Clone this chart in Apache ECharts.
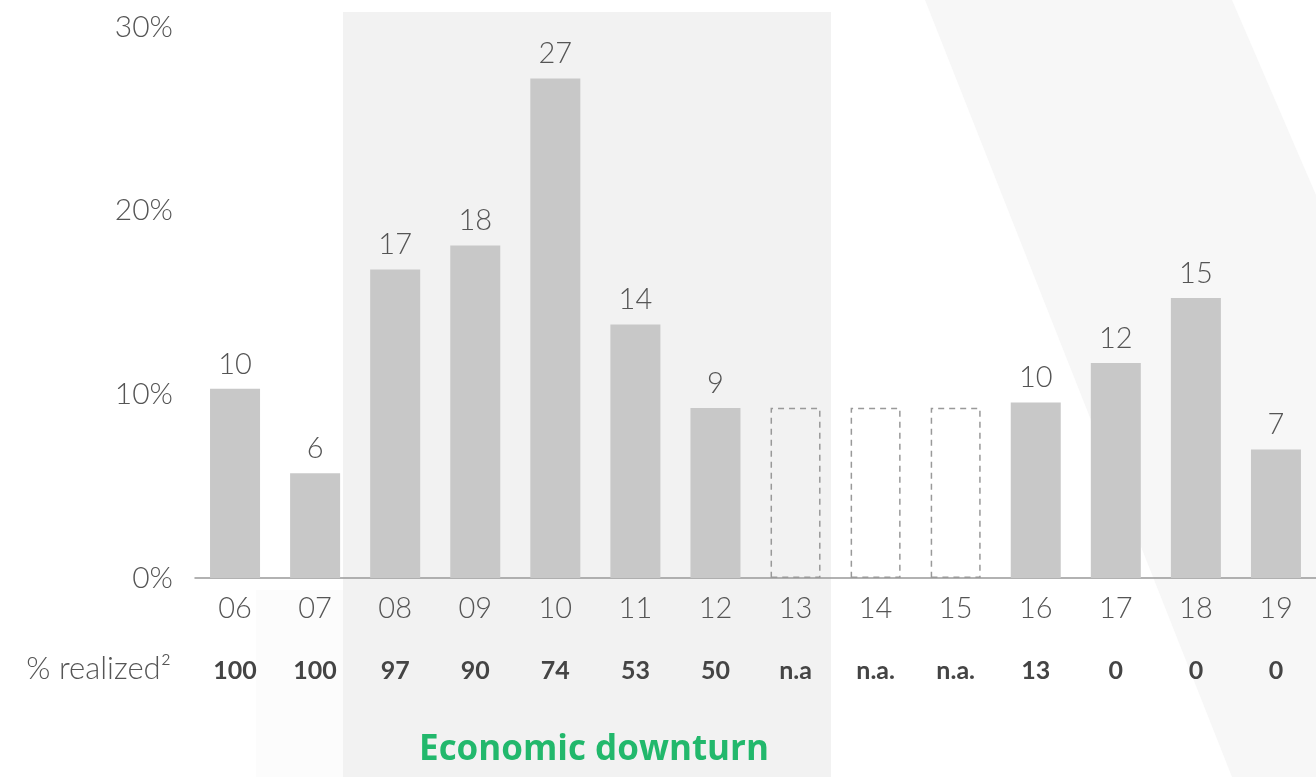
<!DOCTYPE html>
<html>
<head>
<meta charset="utf-8">
<script src="https://cdn.jsdelivr.net/npm/echarts@6/dist/echarts.min.js"></script>
<style>
  html, body { margin: 0; padding: 0; background: #fff; }
  #chart { width: 1316px; height: 777px; }
</style>
</head>
<body>
<div id="chart"></div>
<script>
const years = ['06', '07', '08', '09', '10', '11', '12', '13', '14', '15', '16', '17', '18', '19']
const values = [10.3, 5.7, 16.8, 18.1, 27.2, 13.8, 9.25, 9.27, 9.27, 9.27, 9.55, 11.7, 15.25, 7.0]
const barLabels = ['10', '6', '17', '18', '27', '14', '9', '', '', '', '10', '12', '15', '7']
const placeholder = [false, false, false, false, false, false, false, true, true, true, false, false, false, false]
const realized = ['100', '100', '97', '90', '74', '53', '50', 'n.a', 'n.a.', 'n.a.', '13', '0', '0', '0']
const yTicks = [0, 10, 20, 30]

const font = 'Lato, "Open Sans", sans-serif'
const boldFont = '"Open Sans", Lato, sans-serif'
const chart = echarts.init(document.getElementById('chart'))

chart.setOption({
  animation: false,
  backgroundColor: '#fff',
  graphic: [
    // faint diagonal band on the right
    {
      type: 'polygon', z: -10, silent: true,
      shape: { points: [[925, 0], [1232, 0], [1316, 195], [1316, 777], [1232, 777]] },
      style: { fill: '#f7f7f7' }
    },
    { type: 'rect', z: -10, silent: true, shape: { x: 256, y: 590, width: 87, height: 187 }, style: { fill: '#fcfcfc' } },
    // economic downturn shading
    { type: 'rect', z: -9, silent: true, shape: { x: 343, y: 12, width: 488, height: 765 }, style: { fill: '#f2f2f2' } },
    {
      type: 'text', x: 594, y: 750,
      style: {
        text: 'Economic downturn', fill: '#22b86c', font: 'bold 35px ' + boldFont,
        textAlign: 'center', textVerticalAlign: 'middle'
      }
    },
    {
      type: 'text', right: 1316 - 171, top: 653,
      style: { text: '% realized²', fill: '#555', font: '300 31px ' + font, textAlign: 'right' }
    }
  ],
  grid: { left: 195, top: 27, width: 1124, height: 551 },
  xAxis: [
    {
      type: 'category',
      data: years,
      axisLine: { lineStyle: { color: '#999', width: 1.5 } },
      axisTick: { show: false },
      axisLabel: { color: '#555', fontSize: 29, fontFamily: font, fontWeight: 300, margin: 16 }
    },
    {
      type: 'category',
      data: years,
      position: 'bottom',
      axisLine: { show: false },
      axisTick: { show: false },
      axisLabel: {
        color: '#444', fontSize: 25, fontWeight: 'bold', fontFamily: font, margin: 80,
        formatter: (v, i) => realized[i]
      }
    }
  ],
  yAxis: {
    type: 'value',
    min: 0, max: 30, interval: 10,
    axisLine: { show: false },
    axisTick: { show: false },
    splitLine: { show: false },
    axisLabel: {
      color: '#555', fontSize: 30, fontFamily: font, fontWeight: 300, margin: 22,
      formatter: v => (yTicks.includes(v) ? v + '%' : '')
    }
  },
  series: [{
    type: 'bar',
    barWidth: 50,
    data: values.map((v, i) => placeholder[i]
      ? { value: v, itemStyle: { color: 'rgba(0,0,0,0)', borderColor: '#999', borderWidth: 1.5, borderType: [6, 5] } }
      : v),
    itemStyle: { color: '#c8c8c8' },
    label: {
      show: true, position: 'top', distance: 10,
      color: '#555', fontSize: 29, fontFamily: font, fontWeight: 300,
      formatter: p => barLabels[p.dataIndex]
    }
  }]
})
</script>
</body>
</html>
